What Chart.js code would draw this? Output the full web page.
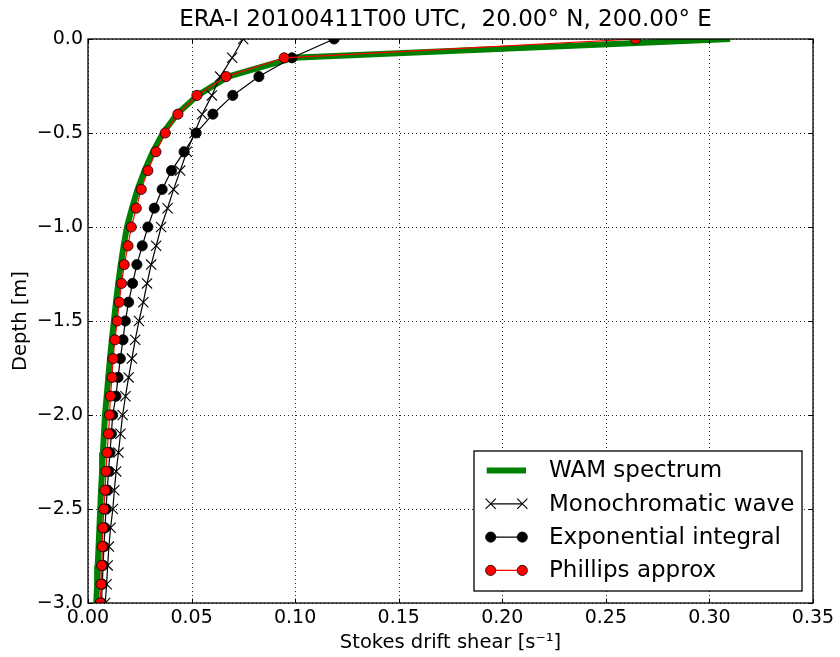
<!DOCTYPE html>
<html><head><meta charset="utf-8">
<script src="https://cdn.jsdelivr.net/npm/chart.js@4/dist/chart.umd.min.js"></script>
<style>html,body{margin:0;padding:0;background:#fff}#wrap{width:840px;height:657px}</style>
</head><body><div id="wrap"><canvas id="c" width="840" height="657"></canvas></div>
<script>
const titleText = 'ERA-I 20100411T00 UTC,  20.00\u00B0 N, 200.00\u00B0 E';
const xLabel = 'Stokes drift shear [s\u207B\u00B9]';
const yLabel = 'Depth [m]';
const seriesLabels = ['WAM spectrum', 'Monochromatic wave', 'Exponential integral', 'Phillips approx'];
const xTicks = [0, 0.05, 0.10, 0.15, 0.20, 0.25, 0.30, 0.35];
const yTicks = [0, -0.5, -1.0, -1.5, -2.0, -2.5, -3.0];

const depths = [0, -0.1, -0.2, -0.3, -0.4, -0.5, -0.6, -0.7, -0.8, -0.9, -1.0,
  -1.1, -1.2, -1.3, -1.4, -1.5, -1.6, -1.7, -1.8, -1.9, -2.0,
  -2.1, -2.2, -2.3, -2.4, -2.5, -2.6, -2.7, -2.8, -2.9, -3.0];
const wamShear = [0.310, 0.099, 0.0677, 0.0529, 0.0429, 0.0362, 0.0313, 0.0273, 0.0239, 0.0212, 0.0188,
  0.0172, 0.0158, 0.0146, 0.0135, 0.0125, 0.0115, 0.0106, 0.0098, 0.0090, 0.0082,
  0.0077, 0.0072, 0.0068, 0.0063, 0.0059, 0.0055, 0.0051, 0.0047, 0.0044, 0.0040];
const monoShear = [0.0749, 0.0696, 0.0638, 0.0598, 0.0551, 0.0514, 0.0477, 0.0445, 0.0413, 0.0384, 0.0353,
  0.0329, 0.0305, 0.0285, 0.0267, 0.0246, 0.0228, 0.0212, 0.0196, 0.0181, 0.0167,
  0.0157, 0.0147, 0.0136, 0.0127, 0.0120, 0.0109, 0.0101, 0.0095, 0.0090, 0.0083];
const expShear = [0.1188, 0.0985, 0.0825, 0.0699, 0.0603, 0.0522, 0.0464, 0.0403, 0.0358, 0.0320, 0.0289,
  0.0262, 0.0236, 0.0215, 0.0196, 0.0180, 0.0169, 0.0156, 0.0145, 0.0135, 0.0119,
  0.0113, 0.0106, 0.0099, 0.0093, 0.0087, 0.0082, 0.0077, 0.0073, 0.0069, 0.0065];
const phillipsShear = [0.2643, 0.0947, 0.0667, 0.0526, 0.0434, 0.0373, 0.0328, 0.0289, 0.0257, 0.0233, 0.0209,
  0.0193, 0.0175, 0.0162, 0.0151, 0.0141, 0.0130, 0.0121, 0.0116, 0.0108, 0.0104,
  0.0099, 0.0092, 0.0087, 0.0082, 0.0077, 0.0072, 0.0069, 0.0066, 0.0063, 0.0059];

const FONT = "'DejaVu Sans', 'Liberation Sans', sans-serif";
const pts = arr => arr.map((v, i) => ({x: v, y: depths[i]}));

const datasets = [
  {label: seriesLabels[0], data: pts(wamShear), borderColor: '#008000', borderWidth: 6,
   pointRadius: 0, order: 4, clip: 0, showLine: true},
  {label: seriesLabels[1], data: pts(monoShear), borderColor: '#000', borderWidth: 1.2,
   pointStyle: 'crossRot', pointRadius: 7.2, pointBorderColor: '#000', pointBorderWidth: 1.1,
   pointBackgroundColor: '#000', order: 3, clip: 0, showLine: true},
  {label: seriesLabels[2], data: pts(expShear), borderColor: '#000', borderWidth: 1.2,
   pointStyle: 'circle', pointRadius: 5.1, pointBorderColor: '#000', pointBorderWidth: 0.8,
   pointBackgroundColor: '#000', order: 2, clip: 0, showLine: true},
  {label: seriesLabels[3], data: pts(phillipsShear), borderColor: '#ff0000', borderWidth: 1.2,
   pointStyle: 'circle', pointRadius: 5.1, pointBorderColor: '#000', pointBorderWidth: 0.8,
   pointBackgroundColor: '#ff0000', order: 1, clip: 0, showLine: true}
];

const decor = {
  id: 'decor',
  beforeDatasetsDraw(chart) {
    const {ctx, chartArea: a, scales: {x, y}} = chart;
    ctx.save();
    ctx.strokeStyle = 'rgba(0,0,0,0.85)';
    ctx.lineWidth = 1;
    ctx.setLineDash([1, 3]);
    xTicks.forEach(v => {
      const px = Math.round(x.getPixelForValue(v)) + 0.5;
      ctx.beginPath(); ctx.moveTo(px, a.top); ctx.lineTo(px, a.bottom); ctx.stroke();
    });
    yTicks.forEach(v => {
      const py = Math.round(y.getPixelForValue(v)) + 0.5;
      ctx.beginPath(); ctx.moveTo(a.left, py); ctx.lineTo(a.right, py); ctx.stroke();
    });
    ctx.restore();
  },
  afterDatasetsDraw(chart) {
    const {ctx, chartArea: a, scales: {x, y}} = chart;
    ctx.save();
    ctx.strokeStyle = '#000';
    ctx.lineWidth = 1.3;
    ctx.strokeRect(a.left, a.top, a.right - a.left, a.bottom - a.top);
    ctx.lineWidth = 1;
    const tl = 4.5;
    xTicks.forEach(v => {
      const px = Math.round(x.getPixelForValue(v)) + 0.5;
      ctx.beginPath();
      ctx.moveTo(px, a.bottom); ctx.lineTo(px, a.bottom - tl);
      ctx.moveTo(px, a.top); ctx.lineTo(px, a.top + tl);
      ctx.stroke();
    });
    yTicks.forEach(v => {
      const py = Math.round(y.getPixelForValue(v)) + 0.5;
      ctx.beginPath();
      ctx.moveTo(a.left, py); ctx.lineTo(a.left + tl, py);
      ctx.moveTo(a.right, py); ctx.lineTo(a.right - tl, py);
      ctx.stroke();
    });
    ctx.fillStyle = '#000';
    ctx.font = '23px ' + FONT;
    ctx.textAlign = 'center';
    ctx.textBaseline = 'middle';
    ctx.fillText(titleText, (a.left + a.right) / 2 - 5, 20);
    const lw = 328, lh = 140;
    const L = a.right - 11 - lw, T = a.bottom - 12 - lh;
    ctx.fillStyle = '#fff';
    ctx.fillRect(L, T, lw, lh);
    ctx.strokeStyle = '#000';
    ctx.lineWidth = 1.3;
    ctx.strokeRect(L, T, lw, lh);
    ctx.font = '23px ' + FONT;
    ctx.textAlign = 'left';
    chart.data.datasets.forEach((ds, i) => {
      const ry = T + 19.5 + i * 33.3;
      const x1 = L + 16.7, x2 = L + 48.3;
      ctx.strokeStyle = ds.borderColor;
      ctx.lineWidth = ds.borderWidth;
      ctx.beginPath();
      if (i === 0) { ctx.moveTo(L + 12.7, ry); ctx.lineTo(L + 52, ry); }
      else { ctx.moveTo(x1, ry); ctx.lineTo(x2, ry); }
      ctx.stroke();
      if (ds.pointRadius > 0) {
        [x1, x2].forEach(px => {
          if (ds.pointStyle === 'crossRot') {
            const r = ds.pointRadius * Math.SQRT1_2;
            ctx.strokeStyle = ds.pointBorderColor; ctx.lineWidth = ds.pointBorderWidth;
            ctx.beginPath();
            ctx.moveTo(px - r, ry - r); ctx.lineTo(px + r, ry + r);
            ctx.moveTo(px - r, ry + r); ctx.lineTo(px + r, ry - r);
            ctx.stroke();
          } else {
            ctx.fillStyle = ds.pointBackgroundColor;
            ctx.strokeStyle = ds.pointBorderColor; ctx.lineWidth = ds.pointBorderWidth;
            ctx.beginPath(); ctx.arc(px, ry, ds.pointRadius, 0, Math.PI * 2);
            ctx.fill(); ctx.stroke();
          }
        });
      }
      ctx.fillStyle = '#000';
      ctx.fillText(ds.label, L + 75, ry + 1);
    });
    ctx.restore();
  }
};

new Chart(document.getElementById('c'), {
  type: 'scatter',
  data: {datasets},
  options: {
    responsive: false,
    devicePixelRatio: 1,
    animation: false,
    layout: {padding: {top: 39, right: 27, left: 0, bottom: 0}},
    plugins: {legend: {display: false}, tooltip: {enabled: false}, title: {display: false}},
    elements: {line: {tension: 0, fill: false}},
    scales: {
      x: {
        type: 'linear', min: 0, max: 0.35,
        afterBuildTicks: s => { s.ticks = xTicks.map(v => ({value: v})); },
        afterFit: s => { s.height = 54; },
        grid: {display: false, drawTicks: false},
        border: {display: false},
        ticks: {color: '#000', font: {family: FONT, size: 19}, padding: 4,
                callback: v => Number(v).toFixed(2), maxRotation: 0, autoSkip: false},
        title: {display: true, text: xLabel, color: '#000', font: {family: FONT, size: 19.5},
                padding: {top: 0, bottom: 2}}
      },
      y: {
        type: 'linear', min: -3, max: 0,
        afterBuildTicks: s => { s.ticks = yTicks.map(v => ({value: v})); },
        afterFit: s => { s.width = 88; },
        grid: {display: false, drawTicks: false},
        border: {display: false},
        ticks: {color: '#000', font: {family: FONT, size: 19}, padding: 5,
                callback: v => Number(v).toFixed(1).replace('-', '\u2212'), autoSkip: false},
        title: {display: true, text: yLabel, color: '#000', font: {family: FONT, size: 19.5},
                padding: {top: 9, bottom: 0}}
      }
    }
  },
  plugins: [decor]
});
</script>
</body></html>
